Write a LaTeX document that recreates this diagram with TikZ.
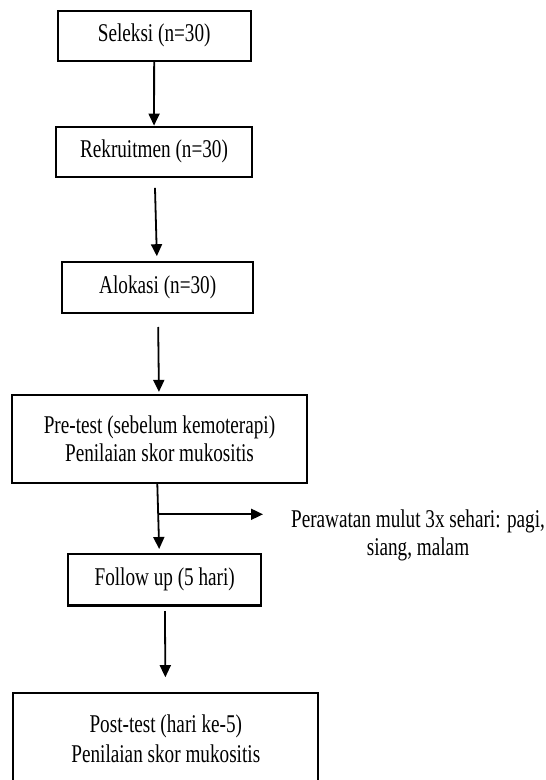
\documentclass[tikz,border=0pt]{standalone}
\usepackage{graphicx}
\usepackage{fontspec}
\setmainfont{Liberation Serif}
\usetikzlibrary{arrows.meta}
\newcommand{\tall}[1]{\scalebox{1}[1.33]{#1}}
\begin{document}
\begin{tikzpicture}[x=0.5pt, y=-0.5pt,
  box/.style={draw, line width=1.1pt, inner sep=0pt, align=center, font=\fontsize{9.6}{14}\selectfont},
  arr/.style={line width=0.9pt, -{Triangle[length=6pt,width=5.5pt]}}]
  \useasboundingbox (0,0) rectangle (545,780);
  \node[box, minimum width=96.5pt, minimum height=25pt] (sel) at (154.2,35.7) {\tall{Seleksi (n=30)}};
  \node[box, minimum width=98.3pt, minimum height=25pt] (rek) at (154,151.7) {\tall{Rekruitmen (n=30)}};
  \node[box, minimum width=95.6pt, minimum height=25.5pt] (alo) at (157.7,287.8) {\tall{Alokasi (n=30)}};
  \node[box, minimum width=147.8pt, minimum height=44pt] (pre) at (159.5,439)
    {\tall{Pre-test (sebelum kemoterapi)}\\ \tall{Penilaian skor mukositis}};
  \node[box, minimum width=96.4pt, minimum height=25.7pt] (fol) at (164.7,579.8) {\tall{Follow up (5 hari)}};
  \node[box, minimum width=152.5pt, minimum height=45pt, font=\fontsize{9.6}{15}\selectfont] (post) at (165.8,738.3)
    {\tall{Post-test (hari ke-5)}\\ \tall{Penilaian skor mukositis}};
  \node[box, draw=none, anchor=west] (care) at (290,535)
    {\tall{Perawatan mulut 3x sehari: pagi,}\\ \tall{siang, malam}};
  % flow
  \draw[arr] (sel) -- (rek);
  \draw[arr, shorten <=5pt, shorten >=2.5pt] (rek) -- (alo);
  \draw[arr, shorten <=6.3pt, shorten >=1pt] (alo) -- (pre);
  \draw[arr, shorten >=2pt] ([xshift=-1.1pt]pre.south) -- ([xshift=-2.7pt]fol.north);
  \draw[arr, shorten <=2.2pt, shorten >=7.5pt] (fol) -- (post);
  % side branch
  \coordinate (tap) at (159,514.3);
  \draw[arr, shorten >=13.5pt] (tap) -- (tap -| care.west);
\end{tikzpicture}
\end{document}
